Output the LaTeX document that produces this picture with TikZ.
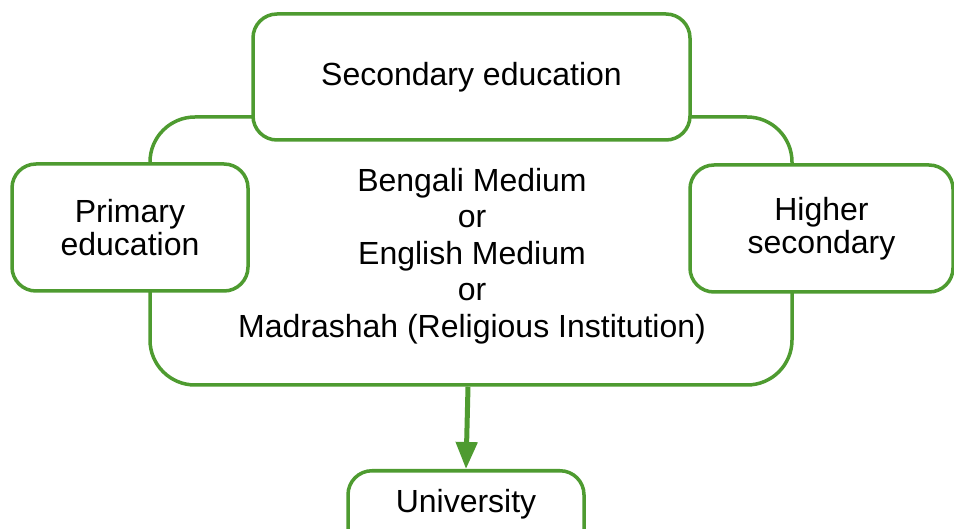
\documentclass[tikz,border=0pt]{standalone}
\usepackage{fontspec}
\setmainfont{Liberation Sans}
\usetikzlibrary{arrows.meta}
\definecolor{boxgreen}{RGB}{78,155,48}
\tikzset{
  gbox/.style={draw=boxgreen, line width=3.5pt, fill=white, rounded corners=24pt, inner sep=0pt, align=center},
  big/.style={font=\fontsize{32}{36.5}\selectfont, align=center},
  side/.style={font=\fontsize{32}{32.5}\selectfont},
  flow/.style={draw=boxgreen, line width=5pt, -{Triangle[length=27pt,width=21pt]}}
}
\begin{document}
\begin{tikzpicture}[x=1pt,y=-1pt]
\useasboundingbox (0,0) rectangle (954,529);
\node[gbox, rounded corners=45pt, minimum width=642pt, minimum height=268pt] (center) at (471,251) {};
\node[big] (centertext) at (472,256)
  {Bengali Medium\\or\\English Medium\\or\\Madrashah (Religious Institution)};
\node[gbox, minimum width=437pt, minimum height=126pt, big] (secondary) at (471.5,77) {\raisebox{-2pt}{Secondary education}};
\node[gbox, minimum width=236pt, minimum height=127pt, side] (primary) at (130,227.5) {Primary\\education};
\node[gbox, minimum width=263pt, minimum height=127pt, side] (higher) at (821.5,228.5) {\raisebox{-2pt}{Higher}\\\raisebox{-2pt}{secondary}};
\node[gbox, minimum width=236pt, minimum height=100pt, anchor=north] (uni) at (466,469) {};
\node[big, anchor=base] (unitext) at (466,512) {University};
\draw[flow] ([xshift=-3pt]center.south) -- ([xshift=0pt]uni.north);
\end{tikzpicture}
\end{document}
